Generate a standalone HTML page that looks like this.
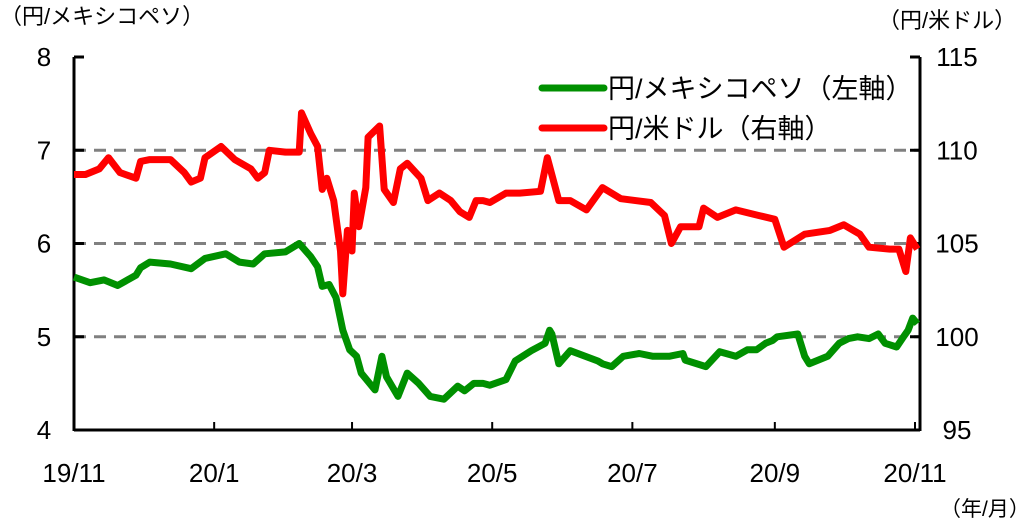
<!DOCTYPE html>
<html><head><meta charset="utf-8"><style>
body{margin:0;background:#fff;}
svg text{font-family:"Liberation Sans","Noto Sans CJK JP",sans-serif;fill:#000;}
</style></head><body>
<svg id="chart" width="1036" height="527" viewBox="0 0 1036 527" xmlns="http://www.w3.org/2000/svg">
<g id="grid"></g>
<g id="axes"></g>
<g id="series"></g>
<text x="0" y="24" font-size="22">（円/メキシコペソ）</text>
<text x="878" y="28" font-size="22">（円/米ドル）</text>
<text x="940" y="516" font-size="21">（年/月）</text>
<g>
<line x1="542" y1="88" x2="604" y2="88" stroke="#009000" stroke-width="7" stroke-linecap="round"/>
<text x="608" y="98" font-size="27">円/メキシコペソ（左軸）</text>
<line x1="542" y1="128" x2="604" y2="128" stroke="#ff0000" stroke-width="7" stroke-linecap="round"/>
<text x="608" y="138" font-size="27">円/米ドル（右軸）</text>
</g>
</svg>
<script>
const usdDays=[0,5,11,15,20,27,29,33,42,48,51,55,57,64,70,77,80,83,85,92,98,99,103,106,108,110,113,116,117,119,121,122,124,127,128,133,135,139,142,145,151,154,159,164,168,172,175,178,181,188,194,203,206,211,216,223,230,238,251,257,260,264,272,274,280,288,298,305,309,318,329,335,342,346,355,359,362,364,367];
const usdValues=[108.7,108.7,109.0,109.6,108.8,108.5,109.4,109.5,109.5,108.8,108.3,108.5,109.6,110.2,109.5,109.0,108.5,108.8,110.0,109.9,109.9,112.0,110.9,110.2,107.9,108.5,107.3,104.6,102.3,105.7,104.6,107.7,105.9,108.0,110.7,111.3,107.9,107.2,109.0,109.3,108.5,107.3,107.7,107.3,106.7,106.4,107.3,107.3,107.2,107.7,107.7,107.8,109.6,107.3,107.3,106.8,108.0,107.4,107.2,106.5,105.0,105.9,105.9,106.9,106.4,106.8,106.5,106.3,104.8,105.5,105.7,106.0,105.5,104.8,104.7,104.7,103.5,105.3,104.7];
const mxnDays=[0,7,13,19,27,29,33,42,51,57,66,72,78,83,92,98,103,106,108,111,114,117,120,123,125,131,134,136,141,145,150,155,161,167,170,174,178,181,188,192,199,205,207,208,211,216,228,230,234,239,246,252,259,265,266,275,281,288,293,297,301,304,306,315,318,320,328,333,337,341,346,350,353,358,361,363,365,367];
const mxnValues=[5.64,5.58,5.61,5.55,5.66,5.74,5.80,5.78,5.73,5.84,5.89,5.80,5.78,5.89,5.91,6.00,5.86,5.75,5.54,5.56,5.42,5.07,4.86,4.79,4.61,4.43,4.79,4.57,4.36,4.61,4.50,4.36,4.33,4.47,4.42,4.50,4.50,4.48,4.54,4.74,4.85,4.93,5.07,5.03,4.71,4.85,4.74,4.71,4.68,4.79,4.82,4.79,4.79,4.82,4.75,4.68,4.84,4.79,4.86,4.86,4.93,4.96,5.00,5.03,4.79,4.71,4.79,4.93,4.98,5.00,4.98,5.03,4.93,4.89,5.00,5.07,5.20,5.14];
const leftTicks=[4,5,6,7,8];
const rightTicks=[95,100,105,110,115];
const xTickLabels=["19/11","20/1","20/3","20/5","20/7","20/9","20/11"];
const xTickDays=[0,61,121,182,243,305,366];

const NS="http://www.w3.org/2000/svg";
const X0=74,X1=920,Y0=57,Y1=430;
function xs(d){return 74+d*(915-74)/366;}
function yl(v){return Y1-(v-4)*(Y1-Y0)/4;}
function yr(v){return Y1-(v-95)*(Y1-Y0)/20;}
function mk(tag,attrs,parent){const e=document.createElementNS(NS,tag);for(const k in attrs)e.setAttribute(k,attrs[k]);parent.appendChild(e);return e;}
const grid=document.getElementById('grid'),axes=document.getElementById('axes'),series=document.getElementById('series');
leftTicks.forEach((t,i)=>{
  const y=yl(t);
  if(t>4&&t<8){const g=mk('line',{x1:X0,x2:X1,y1:y,y2:y,stroke:'#808080','stroke-width':3,'stroke-dasharray':'12 8'},grid);
  
  }
  const tk=mk('line',{x1:X0,x2:X0+10,y1:y,y2:y,stroke:'#000','stroke-width':3},axes);
  
  
  const tx=mk('text',{x:44,y:y+9,'font-size':26,'text-anchor':'middle'},axes);tx.textContent=t;
  
  
});
rightTicks.forEach(t=>{
  const y=yr(t);
  const tk=mk('line',{x1:X1-10,x2:X1,y1:y,y2:y,stroke:'#000','stroke-width':3},axes);
  
  
  const tx=mk('text',{x:957,y:y+9,'font-size':26,'text-anchor':'middle'},axes);tx.textContent=t;
  
  
});
xTickDays.forEach((d,i)=>{
  const x=xs(d);
  const tk=mk('line',{x1:x,x2:x,y1:Y1,y2:Y1-8,stroke:'#000','stroke-width':2},axes);
  
  
  const tx=mk('text',{x:x,y:482,'font-size':26,'text-anchor':'middle'},axes);tx.textContent=xTickLabels[i];
  
  
});
const la=mk('line',{x1:X0,x2:X0,y1:Y0,y2:Y1+1,stroke:'#000','stroke-width':3},axes);


const ra=mk('line',{x1:X1,x2:X1,y1:Y0,y2:Y1+1,stroke:'#000','stroke-width':3},axes);


const ba=mk('line',{x1:X0,x2:X1,y1:Y1,y2:Y1,stroke:'#000','stroke-width':3},axes);


const usdPts=usdDays.map((d,i)=>xs(d).toFixed(1)+','+yr(usdValues[i]).toFixed(1)).join(' ');
const usdLine=mk('polyline',{points:usdPts,fill:'none',stroke:'#ff0000','stroke-width':7,'stroke-linejoin':'round'},series);


const mxnPts=mxnDays.map((d,i)=>xs(d).toFixed(1)+','+yl(mxnValues[i]).toFixed(1)).join(' ');
const mxnLine=mk('polyline',{points:mxnPts,fill:'none',stroke:'#009000','stroke-width':7,'stroke-linejoin':'round'},series);


</script>
</body></html>
